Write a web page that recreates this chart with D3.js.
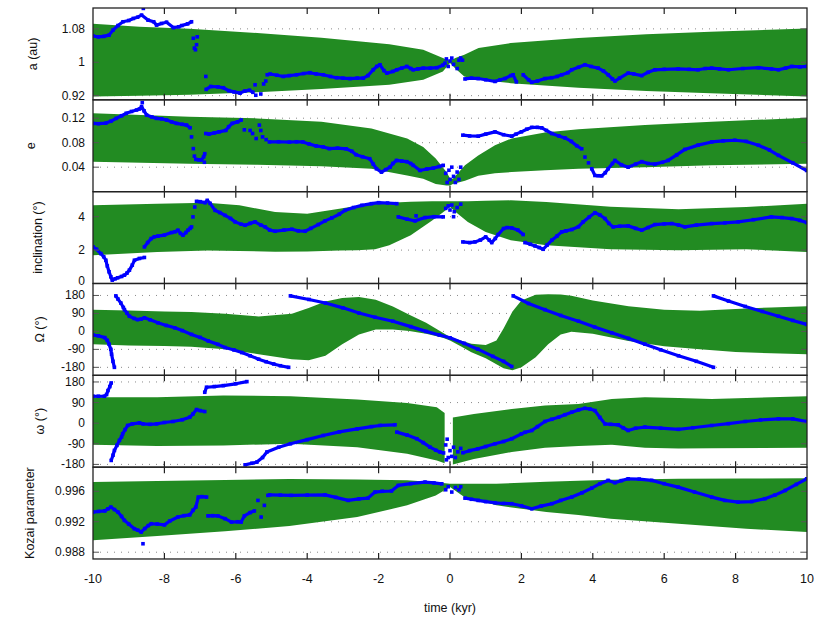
<!DOCTYPE html>
<html>
<head>
<meta charset="utf-8">
<script src="https://cdn.jsdelivr.net/npm/d3@7"></script>
<style>
  body { margin: 0; background: #fff; }
  svg { font-family: "Liberation Sans", Arial, sans-serif; }
</style>
</head>
<body>
<svg id="fig" width="830" height="620"></svg>
<script>
// time axis
const timeTicks = [-10, -8, -6, -4, -2, 0, 2, 4, 6, 8, 10];

// ---- semi-major axis ----
const aBand = [[-10,0.918,1.092],[-8.7,0.920,1.085],[-7.3,0.922,1.080],[-5.4,0.928,1.070],[-3.6,0.936,1.059],[-1.7,0.946,1.043],[-0.75,0.958,1.030],[-0.2,0.978,1.010],[0,0.998,1.003],[0.15,0.985,1.010],[0.4,0.966,1.018],[0.8,0.958,1.034],[1.7,0.950,1.046],[3.6,0.939,1.058],[5.5,0.931,1.067],[7.3,0.926,1.073],[10,0.918,1.081]];
const aDots = [[-10,1.063],[-9.85,1.061],[-9.7,1.062],[-9.55,1.065],[-9.44,1.077],[-9.3,1.088],[-9.16,1.097],[-9.0,1.100],[-8.87,1.105],[-8.75,1.108],[-8.64,1.113],[-8.46,1.101],[-8.3,1.097],[-8.22,1.089],[-8.08,1.093],[-7.94,1.096],[-7.75,1.083],[-7.6,1.085],[-7.51,1.088],[-7.35,1.092],[-7.24,1.097],null,
  [-6.83,0.935],[-6.7,0.942],[-6.5,0.941],[-6.35,0.939],[-6.2,0.932],[-6.05,0.929],[-5.88,0.926],[-5.75,0.931],[-5.62,0.933],[-5.52,0.928],null,
  [-5.04,0.972],[-4.85,0.969],[-4.67,0.966],[-4.5,0.968],[-4.3,0.970],[-4.1,0.973],[-3.92,0.975],[-3.75,0.972],[-3.55,0.970],[-3.35,0.966],[-3.18,0.963],[-3.0,0.962],[-2.8,0.961],[-2.6,0.962],[-2.43,0.962],[-2.3,0.968],[-2.15,0.982],[-2.05,0.990],[-1.96,0.994],[-1.85,0.980],[-1.77,0.974],[-1.6,0.978],[-1.49,0.982],[-1.35,0.986],[-1.21,0.990],[-1.1,0.985],[-1.03,0.982],[-0.9,0.984],[-0.75,0.986],[-0.55,0.986],[-0.37,0.987],[-0.2,0.993],[-0.14,0.998],null,
  [0.42,0.960],[0.6,0.962],[0.79,0.961],[1.0,0.958],[1.26,0.954],[1.4,0.958],[1.54,0.961],[1.7,0.968],[1.77,0.970],[1.86,0.953],null,
  [2.05,0.970],[2.2,0.958],[2.29,0.952],[2.45,0.955],[2.66,0.961],[2.85,0.963],[3.0,0.966],[3.13,0.970],[3.3,0.975],[3.41,0.982],[3.6,0.988],[3.78,0.994],[3.95,0.990],[4.15,0.986],[4.3,0.979],[4.43,0.970],[4.55,0.960],[4.62,0.955],[4.75,0.962],[4.99,0.974],[5.15,0.972],[5.37,0.968],[5.55,0.976],[5.74,0.982],[6.0,0.983],[6.39,0.984],[6.7,0.983],[6.95,0.982],[7.15,0.985],[7.33,0.986],[7.55,0.984],[7.8,0.982],[8.2,0.985],[8.64,0.987],[9.0,0.984],[9.2,0.982],[9.4,0.986],[9.57,0.990],[9.8,0.989],[10,0.990]];
const aScatter = [[-8.59,1.129],[-7.19,1.0575],[-7.16,1.034],[-7.13,1.030],[-7.1,1.042],[-7.08,1.061],[-6.84,0.966],[-5.46,0.946],[-5.44,0.921],[-5.3,0.924],[-5.22,0.948],[-5.16,0.955],[-5.12,0.970],[-0.1,1.008],[-0.05,0.99],[0,1.003],[0.05,1.01],[0.1,0.995],[0.2,0.985],[0.25,1.005],[0.3,1.01],[0.35,1.005]];

// ---- eccentricity ----
const eBand = [[-10,0.049,0.128],[-7.3,0.0456,0.1224],[-5.4,0.044,0.1197],[-3.6,0.0417,0.114],[-2.2,0.0374,0.103],[-1.2,0.0264,0.087],[-0.75,0.021,0.073],[-0.4,0.0127,0.054],[-0.1,0.010,0.032],[0,0.010,0.022],[0.08,0.0127,0.021],[0.42,0.018,0.043],[0.79,0.026,0.059],[1.26,0.030,0.0758],[1.73,0.032,0.087],[2.66,0.035,0.0967],[3.6,0.0374,0.102],[5.46,0.040,0.1087],[7.33,0.043,0.114],[10,0.0456,0.1208]];
const eDots = [[-10,0.1115],[-9.85,0.111],[-9.64,0.112],[-9.5,0.115],[-9.35,0.1197],[-9.2,0.124],[-9.07,0.128],[-8.92,0.131],[-8.78,0.1334],[-8.7,0.135],[-8.64,0.139],[-8.57,0.132],[-8.5,0.1253],[-8.35,0.122],[-8.22,0.1197],[-8.08,0.119],[-7.94,0.117],[-7.8,0.114],[-7.66,0.1115],[-7.5,0.110],[-7.38,0.1087],[-7.28,0.1043],null,
  [-7.12,0.0527],[-7.04,0.052],[-6.96,0.052],[-6.9,0.057],[-6.87,0.062],null,
  [-6.84,0.095],[-6.75,0.094],[-6.6,0.096],[-6.47,0.0977],[-6.28,0.100],[-6.2,0.106],[-6.1,0.1115],[-5.95,0.114],[-5.85,0.117],null,
  [-5.06,0.0812],[-4.8,0.0815],[-4.5,0.081],[-4.3,0.0815],[-4.12,0.0812],[-3.95,0.078],[-3.75,0.0747],[-3.55,0.073],[-3.38,0.0703],[-3.15,0.071],[-2.91,0.070],[-2.75,0.066],[-2.63,0.0604],[-2.45,0.057],[-2.25,0.0538],[-2.15,0.045],[-2.06,0.0374],[-1.92,0.0319],[-1.8,0.036],[-1.68,0.040],[-1.6,0.046],[-1.5,0.051],[-1.35,0.050],[-1.21,0.049],[-1.1,0.046],[-1.03,0.043],[-0.84,0.0346],[-0.65,0.037],[-0.47,0.0385],[-0.3,0.041],[-0.19,0.043],null,
  [0.36,0.0923],[0.55,0.091],[0.79,0.0906],[1.0,0.094],[1.26,0.0977],[1.5,0.093],[1.73,0.0906],[1.85,0.094],[2.0,0.0977],[2.15,0.102],[2.29,0.105],[2.45,0.105],[2.57,0.1043],[2.7,0.1],[2.85,0.095],[3.05,0.091],[3.22,0.0878],[3.4,0.082],[3.55,0.075],[3.69,0.070],null,
  [3.97,0.0374],[4.06,0.0264],[4.15,0.026],[4.25,0.0258],[4.35,0.031],[4.43,0.0374],[4.55,0.046],[4.62,0.051],[4.8,0.044],[4.99,0.040],[5.2,0.045],[5.37,0.049],[5.55,0.046],[5.74,0.045],[5.95,0.048],[6.11,0.051],[6.35,0.060],[6.58,0.069],[6.95,0.076],[7.33,0.0812],[7.65,0.083],[7.98,0.084],[8.3,0.082],[8.64,0.0758],[8.95,0.068],[9.2,0.0593],[9.6,0.047],[9.99,0.0346]];
const eScatter = [[-8.62,0.1455],[-7.24,0.0895],[-7.19,0.0703],[-7.16,0.058],[-6.88,0.048],[-5.76,0.101],[-5.6,0.1],[-5.53,0.095],[-5.43,0.0868],[-5.34,0.1087],[-5.3,0.1],[-5.25,0.0895],[-5.15,0.085],[-0.12,0.03],[-0.08,0.015],[-0.03,0.035],[0,0.02],[0.05,0.04],[0.1,0.025],[0.15,0.015],[0.2,0.032],[0.25,0.02],[0.3,0.04],[3.78,0.0565],[3.88,0.047]];

// ---- inclination ----
const iBand = [[-10,1.69,4.68],[-8.2,1.89,4.78],[-6.8,1.97,4.84],[-5.9,1.95,4.68],[-4.9,1.9,4.28],[-4.0,1.92,4.18],[-3.1,1.97,4.48],[-2.6,1.99,4.65],[-2.1,2.05,4.78],[-1.7,2.29,4.84],[-1.1,2.89,4.90],[-0.5,3.78,4.92],[0,4.58,4.92],[0.15,4.29,4.92],[0.5,3.69,4.92],[1.0,3.09,4.96],[1.7,2.59,4.98],[2.7,2.29,4.88],[4.5,2.05,4.6],[6.4,1.99,4.44],[8.3,2.05,4.58],[10,1.89,4.78]];
const iDots = [[-10,2.19],[-9.9,2.05],[-9.78,1.79],[-9.7,1.6],[-9.64,1.39],[-9.6,1.05],[-9.55,0.70],[-9.5,0.4],[-9.46,0.2],[-9.38,0.28],[-9.31,0.34],[-9.2,0.42],[-9.12,0.5],[-9.05,0.62],[-8.98,0.8],[-8.9,1.1],[-8.84,1.39],[-8.7,1.5],[-8.56,1.56],null,
  [-8.56,2.19],[-8.47,2.45],[-8.37,2.69],[-8.28,2.8],[-8.18,2.84],[-8.0,2.9],[-7.8,3.05],[-7.7,3.1],[-7.62,3.19],[-7.55,3.0],[-7.48,2.89],[-7.4,3.05],[-7.34,3.19],[-7.28,3.3],[-7.24,3.39],null,
  [-7.1,4.92],[-7.0,4.9],[-6.86,4.84],[-6.8,4.98],[-6.72,4.8],[-6.58,4.38],[-6.45,4.25],[-6.3,4.08],[-6.15,3.9],[-6.02,3.69],[-5.85,3.55],[-5.74,3.49],[-5.6,3.6],[-5.46,3.69],[-5.3,3.5],[-5.18,3.39],[-5.05,3.2],[-4.9,3.13],[-4.65,3.2],[-4.43,3.25],[-4.25,3.15],[-4.06,3.13],[-3.9,3.3],[-3.69,3.53],[-3.5,3.75],[-3.31,3.93],[-3.1,4.15],[-2.94,4.38],[-2.7,4.55],[-2.47,4.68],[-2.2,4.78],[-2.0,4.84],[-1.75,4.82],[-1.49,4.78],null,
  [-1.45,3.99],[-1.2,3.85],[-0.98,3.75],[-0.7,3.95],[-0.45,4.0],[-0.19,3.99],null,
  [0.36,2.49],[0.55,2.45],[0.7,2.49],[0.85,2.6],[1.0,2.79],[1.1,2.6],[1.17,2.45],[1.27,2.7],[1.35,2.93],[1.5,3.29],[1.6,3.35],[1.73,3.33],[1.9,3.2],[2.05,2.93],null,
  [2.1,2.45],[2.25,2.35],[2.38,2.25],[2.5,2.15],[2.61,2.05],[2.72,2.3],[2.85,2.59],[3.0,2.85],[3.13,3.09],[3.25,3.15],[3.41,3.23],[3.6,3.4],[3.73,3.69],[3.9,3.98],[4.06,4.24],[4.2,4.1],[4.34,3.89],[4.45,3.6],[4.57,3.39],[4.75,3.43],[4.99,3.45],[5.2,3.3],[5.37,3.19],[5.55,3.35],[5.74,3.53],[6.0,3.57],[6.21,3.59],[6.4,3.5],[6.58,3.39],[6.9,3.5],[7.33,3.59],[7.7,3.63],[8.07,3.69],[8.5,3.82],[9.0,3.99],[9.3,3.95],[9.57,3.89],[9.8,3.78],[9.99,3.65]];
const iScatter = [[-7.2,3.99],[-7.15,4.58],[-0.95,4.05],[-0.12,4.5],[-0.05,4.65],[0,4.4],[0.05,4.7],[0.1,4.0],[0.12,4.3],[0.2,4.55],[0.3,4.75]];

// ---- longitude of node ----
const nodeBand = [[-10,-64.5,108.7],[-9,-70,105],[-8,-73,100],[-7.24,-77,97],[-6.3,-89,88],[-5.36,-114,75],[-4.43,-139,88],[-3.96,-144,117],[-3.49,-122,150],[-3.02,-64,167],[-2.55,-15,172],[-2.08,10,158],[-1.6,10,125],[-1.14,2,84],[-0.67,-12,43],[-0.2,-32,-7],[0,-45,-28],[0.3,-75,-45],[0.6,-105,-62],[1.0,-135,-68],[1.3,-165,-45],[1.5,-185,15],[1.75,-195,100],[2.0,-180,155],[2.4,-130,183],[2.75,-64,186],[3.1,-15,185],[3.4,-2,178],[4.0,-12,155],[5.0,-48,126],[6.0,-75,108],[7.0,-90,103],[8.0,-103,112],[9.0,-110,120],[10,-114,126]];
const nodeDots = [[-10,-18],[-9.85,-22],[-9.67,-31],[-9.6,-45],[-9.55,-64],[-9.5,-90],[-9.48,-114],[-9.44,-150],[-9.4,-180],null,
  [-9.36,178],[-9.3,162],[-9.22,142],[-9.15,120],[-9.12,109],[-9.05,92],[-8.98,76],[-8.85,65],[-8.75,59],[-8.65,62],[-8.56,68],[-8.4,58],[-8.18,43],[-7.95,30],[-7.71,18],[-7.5,4],[-7.24,-15],[-7.0,-30],[-6.77,-48],[-6.5,-65],[-6.3,-81],[-6.05,-93],[-5.83,-106],[-5.6,-122],[-5.36,-139],[-5.15,-152],[-4.94,-163],[-4.75,-172],[-4.52,-180],null,
  [-4.47,178],[-3.95,160],[-3.49,142],[-3.0,118],[-2.55,92],[-2.1,71],[-1.6,51],[-1.1,24],[-0.67,0],[-0.3,-18],[0,-32],[0.4,-60],[0.78,-89],[1.2,-125],[1.5,-150],[1.73,-176],null,
  [1.77,178],[2.2,140],[2.66,109],[3.1,80],[3.6,51],[4.05,22],[4.53,-7],[5.0,-35],[5.46,-64],[5.9,-92],[6.4,-122],[6.9,-150],[7.38,-180],null,
  [7.38,178],[7.8,152],[8.27,125],[8.75,100],[9.2,76],[9.6,55],[9.99,35]];
const nodeScatter = [];

// ---- argument of perihelion ----
const periBand = [[-10,-94.5,113],[-8.2,-100,113],[-6.35,-97,120.6],[-4.47,-90,118],[-2.6,-104.6,103],[-1.2,-134,88.5],[-0.37,-163,70],[-0.15,-175,45],null,[0.08,-180,25],[0.67,-156,40.6],[1.73,-126,62],[2.66,-107,77],[3.6,-100,84],[4.53,-94,106],[5.46,-107,113],[6.4,-111,110],[7.33,-109,106],[10,-107,117.6]];
const periDots = [[-10,117.7],[-9.85,117.7],[-9.68,117.7],[-9.62,125],[-9.58,142.5],[-9.53,160],[-9.49,175.7],null,
  [-9.49,-162.6],[-9.44,-140],[-9.4,-119],[-9.33,-97],[-9.26,-75],[-9.2,-60],[-9.17,-46.6],[-9.1,-28],[-9.03,-10],[-8.9,-3],[-8.7,1.3],[-8.6,-3],[-8.4,-5],[-8.22,-3],[-8.0,3],[-7.76,7.4],[-7.5,15],[-7.29,26],[-7.2,40],[-7.1,59.6],[-7.0,55],[-6.87,50.8],null,
  [-6.87,135],[-6.82,157],[-6.6,160],[-6.35,164],[-6.0,172],[-5.69,181.6],null,
  [-5.74,-182],[-5.55,-175],[-5.41,-170],[-5.25,-150],[-5.13,-126],[-4.8,-105],[-4.47,-90],[-4.0,-72],[-3.55,-53.6],[-3.1,-38],[-2.6,-25],[-2.2,-15],[-1.96,-10],[-1.54,-7],null,
  [-1.49,-39],[-1.2,-52],[-0.93,-68],[-0.75,-85],[-0.56,-104.6],[-0.4,-118],[-0.28,-126],[-0.18,-130],null,
  [0.36,-129],[0.55,-120],[0.78,-112],[1.0,-102],[1.26,-90],[1.5,-80],[1.73,-68],[2.0,-46.6],[2.1,-40],[2.29,-32],[2.45,-15],[2.66,7.4],[2.85,17],[3.04,26],[3.22,37],[3.41,48],[3.6,58],[3.78,65],[3.92,62],[4.06,55],[4.2,25],[4.34,-3],[4.5,-5],[4.71,-7],[4.85,-20],[4.99,-32],[5.2,-22],[5.46,-17],[5.9,-22],[6.4,-27],[6.8,-20],[7.33,-10],[7.8,-2],[8.27,7.4],[8.7,14],[9.2,19],[9.6,19],[9.99,7.4]];
const periScatter = [[-0.12,-95],[-0.08,-70],[-0.05,-150],[0,-120],[0.05,-145],[0.1,-105],[0.15,-150],[0.22,-125],[0.3,-110],[-0.1,-160]];

// ---- Kozai parameter ----
const kBand = [[-10,0.98956,0.99721],[-8.2,0.99012,0.99735],[-6.3,0.99074,0.99748],[-4.5,0.99144,0.99762],[-2.6,0.99262,0.99755],[-1.2,0.99415,0.99745],[-0.4,0.99546,0.9972],[0,0.99655,0.99698],[0.4,0.99524,0.99698],[1.3,0.99415,0.997],[2.7,0.99327,0.99725],[3.6,0.9929,0.9974],[4.5,0.99239,0.9975],[6.4,0.99174,0.99764],[8.3,0.99108,0.99768],[10,0.99065,0.9977]];
const kDots = [[-10,0.99327],[-9.85,0.99335],[-9.67,0.99342],[-9.58,0.9937],[-9.5,0.99393],[-9.4,0.9936],[-9.3,0.99327],[-9.2,0.9927],[-9.12,0.99218],[-9.0,0.9917],[-8.84,0.99108],[-8.75,0.9909],[-8.65,0.99065],[-8.55,0.9911],[-8.45,0.9915],[-8.37,0.99174],[-8.2,0.9917],[-8.0,0.99159],[-7.85,0.9921],[-7.62,0.99262],[-7.45,0.9928],[-7.29,0.99291],[-7.2,0.9935],[-7.12,0.99393],[-7.05,0.99524],[-6.95,0.9953],[-6.82,0.99524],null,
  [-6.78,0.99277],[-6.65,0.9928],[-6.5,0.99277],[-6.3,0.9924],[-6.12,0.99196],[-5.95,0.992],[-5.85,0.99196],[-5.76,0.99277],[-5.6,0.9932],[-5.48,0.99342],null,
  [-5.05,0.99553],[-4.75,0.9955],[-4.45,0.99546],[-4.0,0.9955],[-3.5,0.99553],[-3.2,0.9952],[-2.85,0.9948],[-2.55,0.995],[-2.3,0.9951],[-2.1,0.9959],[-1.9,0.996],[-1.64,0.99604],[-1.45,0.99677],[-1.1,0.997],[-0.7,0.99721],[-0.45,0.9971],[-0.23,0.99698],null,
  [0.42,0.9951],[0.6,0.99495],[0.79,0.9948],[1.0,0.99465],[1.26,0.99449],[1.5,0.9944],[1.73,0.99437],[2.0,0.9941],[2.29,0.9937],[2.55,0.99405],[2.85,0.99437],[3.1,0.9948],[3.41,0.99524],[3.7,0.9958],[3.97,0.99642],[4.2,0.997],[4.43,0.99743],[4.62,0.99713],[4.8,0.9974],[4.99,0.99764],[5.3,0.9976],[5.65,0.99743],[6.0,0.997],[6.39,0.99655],[6.85,0.9959],[7.33,0.99524],[7.7,0.9948],[8.07,0.99458],[8.45,0.99465],[8.82,0.99502],[9.1,0.9955],[9.39,0.99611],[9.7,0.9969],[9.99,0.99764]];
const kScatter = [[-8.6,0.98911],[-5.38,0.9948],[-5.29,0.99262],[-5.2,0.99415],[-5.1,0.99546],[-0.12,0.9962],[-0.05,0.9966],[0.05,0.9959],[0.15,0.9965],[0.25,0.9962],[0.3,0.9966]];

const panels = [
  { label: "a (au)", labelX: 33, domain: [0.91, 1.13], ticks: [0.92, 1, 1.08], band: aBand, dots: aDots, scatter: aScatter },
  { label: "e", labelX: 31, domain: [0, 0.15], ticks: [0.04, 0.08, 0.12], band: eBand, dots: eDots, scatter: eScatter },
  { label: "inclination (°)", labelX: 38, domain: [0, 5.5], ticks: [0, 2, 4], band: iBand, dots: iDots, scatter: iScatter },
  { label: "Ω (°)", labelX: 40, domain: [-220, 240], ticks: [-180, -90, 0, 90, 180], band: nodeBand, dots: nodeDots, scatter: nodeScatter },
  { label: "ω (°)", labelX: 40, domain: [-192, 209], ticks: [-180, -90, 0, 90, 180], band: periBand, dots: periDots, scatter: periScatter },
  { label: "Kozai parameter", labelX: 30, domain: [0.98711, 0.99917], ticks: [0.988, 0.992, 0.996], band: kBand, dots: kDots, scatter: kScatter }
];

const plotLeft = 93, plotRight = 807, plotTop = 8, panelH = 91.83;
const green = "#228b22", blue = "#0000ff";

const svg = d3.select("#fig");
const x = d3.scaleLinear().domain([-10, 10]).range([plotLeft, plotRight]);

panels.forEach((p, k) => {
    const y0 = plotTop + k * panelH, y1 = y0 + panelH;
    const y = d3.scaleLinear().domain(p.domain).range([y1, y0]);
    const g = svg.append("g");

    g.append("clipPath").attr("id", "clip" + k)
        .append("rect").attr("x", plotLeft).attr("y", y0).attr("width", plotRight - plotLeft).attr("height", panelH);

    // dotted grid lines
    g.selectAll(".grid").data(p.ticks).join("line")
        .attr("x1", plotLeft).attr("x2", plotRight)
        .attr("y1", d => y(d)).attr("y2", d => y(d))
        .attr("stroke", "#8a8a8a").attr("stroke-width", 1)
        .attr("stroke-dasharray", "1,6");

    const body = g.append("g").attr("clip-path", `url(#clip${k})`);

    // clone envelope
    const area = d3.area()
        .defined(d => d != null)
        .x(d => x(d[0]))
        .y0(d => y(d[1]))
        .y1(d => y(d[2]));
    body.append("path").datum(p.band)
        .attr("d", area)
        .attr("fill", green);

    // nominal orbit
    const line = d3.line()
        .defined(d => d != null)
        .x(d => x(d[0]))
        .y(d => y(d[1]));
    body.append("path").datum(p.dots)
        .attr("d", line)
        .attr("fill", "none")
        .attr("stroke", blue)
        .attr("stroke-width", 3.2)
        .attr("stroke-linejoin", "round");

    const pts = p.dots.filter(d => d != null).concat(p.scatter);
    body.selectAll(".pt").data(pts).join("rect")
        .attr("x", d => x(d[0]) - 1.8)
        .attr("y", d => y(d[1]) - 1.8)
        .attr("width", 3.6).attr("height", 3.6)
        .attr("fill", blue);

    // y tick marks on both sides
    p.ticks.forEach(v => {
        g.append("line").attr("x1", plotLeft).attr("x2", plotLeft + 6).attr("y1", y(v)).attr("y2", y(v))
            .attr("stroke", "#555").attr("stroke-width", 1);
        g.append("line").attr("x1", plotRight - 6).attr("x2", plotRight).attr("y1", y(v)).attr("y2", y(v))
            .attr("stroke", "#555").attr("stroke-width", 1);
    });

    // x tick marks top and bottom
    timeTicks.slice(1, -1).forEach(t => {
        g.append("line").attr("x1", x(t)).attr("x2", x(t)).attr("y1", y0).attr("y2", y0 + 6)
            .attr("stroke", "#222").attr("stroke-width", 1.2);
        g.append("line").attr("x1", x(t)).attr("x2", x(t)).attr("y1", y1 - 6).attr("y2", y1)
            .attr("stroke", "#222").attr("stroke-width", 1.2);
    });

    // frame
    g.append("rect")
        .attr("x", plotLeft).attr("y", y0).attr("width", plotRight - plotLeft).attr("height", panelH)
        .attr("fill", "none").attr("stroke", "#222").attr("stroke-width", 1.3);

    // y tick labels (kept just inside the panel so neighbours don't collide)
    g.selectAll(".ylab").data(p.ticks).join("text")
        .attr("x", plotLeft - 8)
        .attr("y", d => Math.max(y0 + 5.5, Math.min(y1 - 2.5, y(d))))
        .attr("text-anchor", "end").attr("dominant-baseline", "central")
        .style("font-size", "12px").attr("fill", "#111")
        .text(d => String(d));

    // panel label
    g.append("text")
        .attr("transform", `translate(${p.labelX},${(y0 + y1) / 2}) rotate(-90)`)
        .attr("text-anchor", "middle").attr("dominant-baseline", "central")
        .style("font-size", "12.5px").attr("fill", "#111")
        .text(p.label);
});

// x axis labels
const plotBottom = plotTop + panels.length * panelH;
svg.selectAll(".xlab").data(timeTicks).join("text")
    .attr("x", d => x(d)).attr("y", plotBottom + 24)
    .attr("text-anchor", "middle")
    .style("font-size", "12.5px").attr("fill", "#111")
    .text(d => String(d));

svg.append("text")
    .attr("x", x(0)).attr("y", plotBottom + 53)
    .attr("text-anchor", "middle")
    .style("font-size", "12.5px").attr("fill", "#111")
    .text("time (kyr)");
</script>
</body>
</html>
